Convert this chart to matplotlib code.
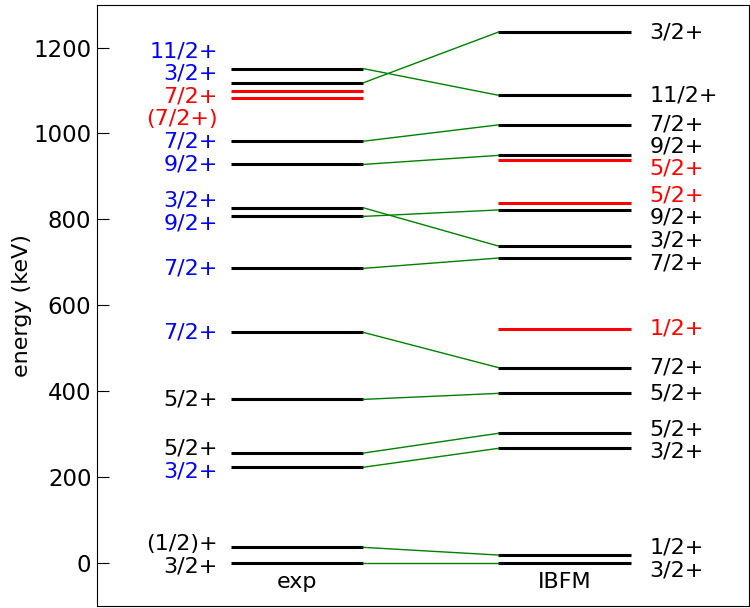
import numpy as np
import matplotlib
matplotlib.use("Agg")
import matplotlib.pyplot as plt

# experimental levels (keV), spins and colours
exp_E = [0, 36.5, 223, 256, 381, 537, 686, 807, 827, 928, 982, 1083, 1098, 1118, 1151]
exp_J = ['3/2+', '(1/2)+', '3/2+', '5/2+', '5/2+', '7/2+', '7/2+', '9/2+', '3/2+',
         '9/2+', '7/2+', '(7/2+)', '7/2+', '3/2+', '11/2+']
exp_lab_col = ['k', 'k', 'b', 'k', 'k', 'b', 'b', 'b', 'b', 'b', 'b', 'r', 'r', 'b', 'b']
exp_line_col = ['k'] * 11 + ['r', 'r', 'k', 'k']

# IBFM calculation
ibfm_E = [0, 18.6, 267, 302, 395, 455, 545, 710, 738, 822, 839, 939, 949, 1020, 1089, 1236]
ibfm_J = ['3/2+', '1/2+', '3/2+', '5/2+', '5/2+', '7/2+', '1/2+', '7/2+', '3/2+',
          '9/2+', '5/2+', '5/2+', '9/2+', '7/2+', '11/2+', '3/2+']
ibfm_col = ['k', 'k', 'k', 'k', 'k', 'k', 'r', 'k', 'k', 'k', 'r', 'r', 'k', 'k', 'k', 'k']

# exp level -> ibfm level
links = [(0, 0), (1, 1), (2, 2), (3, 3), (4, 4), (5, 5), (6, 7), (7, 9), (8, 8),
         (9, 12), (10, 13), (13, 15), (14, 14)]

colmap = {'k': 'black', 'b': 'blue', 'r': 'red'}


def spread(E, gap):
    # push labels apart so that they don't overlap
    E = np.asarray(E, dtype=float)
    order = np.argsort(E)
    groups = [[i] for i in order]
    changed = True
    while changed:
        changed = False
        pos = [np.mean(E[g]) + (np.arange(len(g)) - (len(g) - 1) / 2.) * gap for g in groups]
        for k in range(len(groups) - 1):
            if pos[k][-1] + gap > pos[k + 1][0] + 1e-9:
                groups[k] = groups[k] + groups[k + 1]
                del groups[k + 1]
                changed = True
                break
    out = np.zeros(len(E))
    for g in groups:
        p = np.mean(E[g]) + (np.arange(len(g)) - (len(g) - 1) / 2.) * gap
        out[g] = p
    return out


fig = plt.figure(figsize=(7.5, 6.08), dpi=100)
ax = fig.add_axes([0.1293, 0.0033, 0.8694, 0.9891])

x_exp, x_ibfm, hw = 0.307, 0.717, 0.1015
gap = 52

for E, c in zip(exp_E, exp_line_col):
    ax.plot([x_exp - hw, x_exp + hw], [E, E], color=colmap[c], lw=2.2, solid_capstyle='butt')
for E, c in zip(ibfm_E, ibfm_col):
    ax.plot([x_ibfm - hw, x_ibfm + hw], [E, E], color=colmap[c], lw=2.2, solid_capstyle='butt')

for i, j in links:
    ax.plot([x_exp + hw, x_ibfm - hw], [exp_E[i], ibfm_E[j]], color='green', lw=1)

for y, J, c in zip(spread(exp_E, gap), exp_J, exp_lab_col):
    ax.text(x_exp - hw - 0.02, y, J, color=colmap[c], fontsize=16,
            ha='right', va='center')
for y, J, c in zip(spread(ibfm_E, gap), ibfm_J, ibfm_col):
    ax.text(x_ibfm + hw + 0.029, y, J, color=colmap[c], fontsize=16,
            ha='left', va='center')

ax.text(x_exp, -45, 'exp', fontsize=16, ha='center', va='center')
ax.text(x_ibfm, -45, 'IBFM', fontsize=16, ha='center', va='center')

ax.set_xlim(0, 1)
ax.set_ylim(-100, 1300)
ax.set_xticks([])
ax.set_yticks(np.arange(0, 1201, 200))
ax.tick_params(axis='y', direction='in', length=8.5, width=0.8, labelsize=16.5, pad=4)
ax.set_ylabel('energy (keV)', fontsize=16, labelpad=1)

fig.savefig('out.png', dpi=100)
